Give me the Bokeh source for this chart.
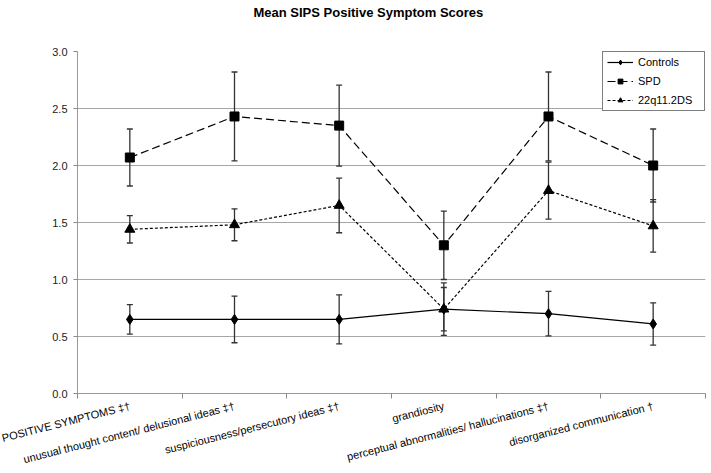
import math
from bokeh.plotting import figure
from bokeh.models import FixedTicker, Whisker, ColumnDataSource, TeeHead, NumeralTickFormatter, Title
from bokeh.embed import file_html
from bokeh.resources import INLINE

categories = [
    "POSITIVE SYMPTOMS ‡†",
    "unusual thought content/ delusional ideas ‡†",
    "suspiciousness/persecutory ideas ‡†",
    "grandiosity",
    "perceptual abnormalities/ hallucinations ‡†",
    "disorganized communication †",
]
controls_mean = [0.65, 0.65, 0.65, 0.74, 0.70, 0.61]
controls_err = [0.13, 0.205, 0.215, 0.19, 0.195, 0.185]
spd_mean = [2.07, 2.43, 2.35, 1.30, 2.43, 2.00]
spd_err = [0.25, 0.39, 0.355, 0.30, 0.39, 0.32]
q22_mean = [1.44, 1.48, 1.65, 0.74, 1.78, 1.47]
q22_err = [0.12, 0.14, 0.24, 0.23, 0.25, 0.23]
y_ticks = [0.0, 0.5, 1.0, 1.5, 2.0, 2.5, 3.0]

FONT = "Liberation Sans"
xpos = [i + 0.5 for i in range(len(categories))]
bounds = list(range(len(categories) + 1))

p = figure(width=711, height=473, x_range=(0, len(categories)), y_range=(0, 3),
           output_backend="svg", toolbar_location=None, title=None,
           min_border_left=77, min_border_right=6, min_border_top=51, min_border_bottom=80)
p.outline_line_color = None

# spacer between the frame and the title
p.add_layout(Title(text=" ", text_font=FONT, text_font_size="15px"), "above")
p.add_layout(Title(text="Mean SIPS Positive Symptom Scores", align="left", offset=176,
                   standoff=5,
                   text_font=FONT, text_font_size="13px", text_font_style="bold",
                   text_color="#000000"), "above")

# x axis
p.xaxis.ticker = FixedTicker(ticks=xpos, minor_ticks=bounds)
p.xaxis.major_label_overrides = {x: c for x, c in zip(xpos, categories)}
p.xaxis.major_label_orientation = 0.25
p.xaxis.major_tick_line_color = None
p.xaxis.minor_tick_line_color = "#888888"
p.xaxis.minor_tick_in = 0
p.xaxis.minor_tick_out = 5
p.xaxis.axis_line_color = "#999999"
p.xaxis.major_label_text_font = FONT
p.xaxis.major_label_text_font_size = "11px"
p.xaxis.major_label_text_color = "#000000"
p.xaxis.major_label_standoff = 6

# y axis
p.yaxis.ticker = FixedTicker(ticks=y_ticks)
p.yaxis.formatter = NumeralTickFormatter(format="0.0")
p.yaxis.major_tick_in = 0
p.yaxis.major_tick_out = 4
p.yaxis.major_tick_line_color = "#888888"
p.yaxis.minor_tick_line_color = None
p.yaxis.axis_line_color = "#999999"
p.yaxis.major_label_text_font = FONT
p.yaxis.major_label_text_font_size = "11px"
p.yaxis.major_label_text_color = "#222222"
p.yaxis.major_label_standoff = 6

p.xgrid.grid_line_color = None
p.ygrid.grid_line_color = "#a6a6a6"

series = [
    ("Controls", controls_mean, controls_err, "solid", "diamond", 10),
    ("SPD", spd_mean, spd_err, "8 4", "square", 9),
    ("22q11.2DS", q22_mean, q22_err, "3 2", "triangle", 10),
]

for name, m, e, dash, marker, size in series:
    src = ColumnDataSource(dict(x=xpos, y=m,
                                lo=[a - b for a, b in zip(m, e)],
                                hi=[a + b for a, b in zip(m, e)]))
    p.line("x", "y", source=src, line_color="black", line_width=1.2,
           line_dash=dash, legend_label=name)
    w = Whisker(source=src, base="x", lower="lo", upper="hi",
                line_color="#333333", line_width=1.3,
                upper_head=TeeHead(size=6, line_color="#333333", line_width=1.3),
                lower_head=TeeHead(size=6, line_color="#333333", line_width=1.3))
    p.add_layout(w)

for name, m, e, dash, marker, size in series:
    src = ColumnDataSource(dict(x=xpos, y=m))
    p.scatter("x", "y", source=src, marker=marker, size=size,
              fill_color="black", line_color="black", legend_label=name)

lg = p.legend[0]
lg.location = "top_right"
lg.margin = 0
lg.padding = 4
lg.spacing = 7
lg.glyph_height = 12
lg.label_height = 12
lg.glyph_width = 26
lg.label_width = 62
lg.label_standoff = 5
lg.border_line_color = "#000000"
lg.border_line_width = 1
lg.background_fill_alpha = 1
lg.label_text_font = FONT
lg.label_text_font_size = "11px"
lg.label_text_color = "#000000"

open("out.html", "w").write(file_html(p, INLINE))
